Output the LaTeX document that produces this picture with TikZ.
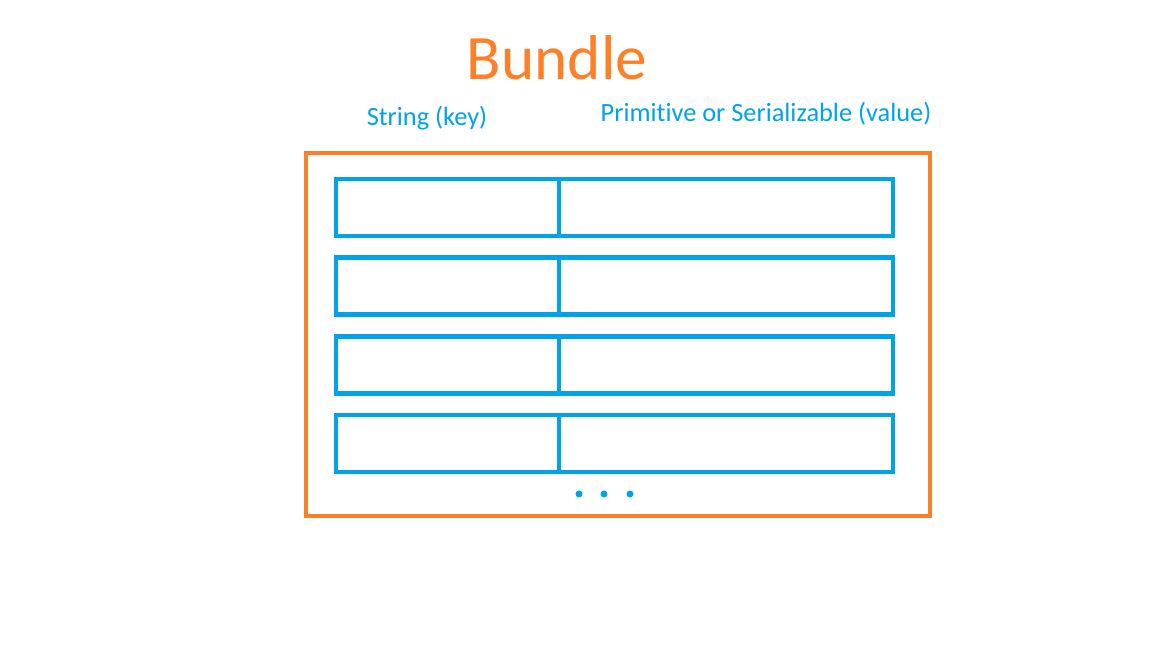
\documentclass[tikz,border=0pt]{standalone}
\usepackage{fontspec}
\setmainfont[Ligatures={NoCommon,NoContextual,NoRare}]{Carlito}
\usepackage{xcolor}
\usepackage{tikz}
\usetikzlibrary{positioning}
\definecolor{bundleorange}{HTML}{FF7F27}
\definecolor{entryblue}{HTML}{00A2E8}

\begin{document}
\begin{tikzpicture}[
    bundlebox/.style={rectangle, draw=bundleorange, line width=1.2pt, minimum width=6.24cm, minimum height=3.63cm, inner sep=0pt, outer sep=0pt},
    keycell/.style={rectangle, draw=entryblue, line width=1.35pt, minimum width=2.23cm, minimum height=0.57cm, inner sep=0pt, outer sep=0pt},
    valuecell/.style={rectangle, draw=entryblue, line width=1.35pt, minimum width=3.34cm, minimum height=0.57cm, inner sep=0pt, outer sep=0pt},
    header/.style={text=entryblue, font=\fontsize{7.5}{9}\selectfont, inner sep=0pt}
]
\useasboundingbox (0, 0) rectangle (11.52, 6.48);

\node[text=bundleorange, font=\fontsize{18}{22}\selectfont, inner sep=0pt] (title) at (5.57, 5.90) {Bundle};
\node[header] (keylabel) at (4.27, 5.30) {String (key)};
\node[header] (valuelabel) at (7.66, 5.34) {Primit\kern0pt ive or Serializable (value)};

\node[bundlebox] (bundle) at (6.18, 3.135) {};

\foreach \i/\y in {1/4.405, 2/3.620, 3/2.830, 4/2.045} {
    \node[keycell] (key\i) at (4.475, \y) {};
    \node[valuecell, right=0pt of key\i] (value\i) {};
}

\foreach \x in {5.79, 6.04, 6.30}
    \fill[entryblue] (\x, 1.54) circle (0.035);

\end{tikzpicture}
\end{document}
